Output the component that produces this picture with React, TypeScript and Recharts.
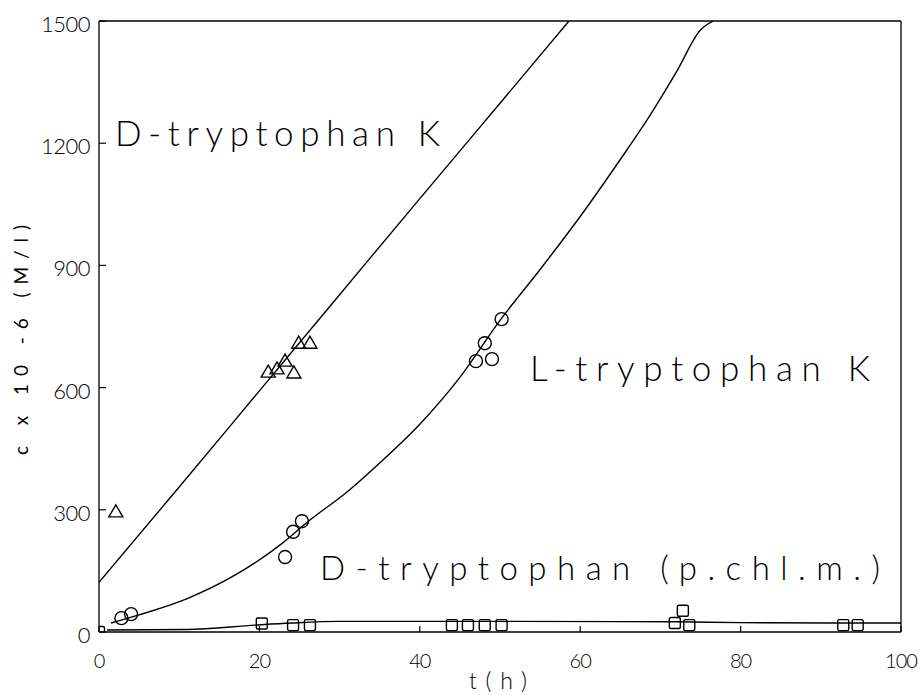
import React from 'react';
import { ComposedChart, Line, Scatter, XAxis, YAxis, ReferenceLine } from 'recharts';

// D-tryptophan K (triangles)
const dTrpPoints = [
  { t: 2.1, c: 295 },
  { t: 21.1, c: 638 },
  { t: 22.2, c: 646 },
  { t: 23.2, c: 665 },
  { t: 24.3, c: 636 },
  { t: 24.9, c: 709 },
  { t: 26.3, c: 709 },
];
const dTrpFit = [
  { t: 0, c: 122 },
  { t: 10, c: 356 },
  { t: 20, c: 592 },
  { t: 30, c: 828 },
  { t: 40, c: 1064 },
  { t: 50, c: 1298 },
  { t: 58.6, c: 1500 },
];

// L-tryptophan K (circles)
const lTrpPoints = [
  { t: 2.8, c: 34 },
  { t: 4.0, c: 44 },
  { t: 23.2, c: 184 },
  { t: 24.2, c: 246 },
  { t: 25.3, c: 272 },
  { t: 47.0, c: 665 },
  { t: 48.1, c: 709 },
  { t: 49.0, c: 670 },
  { t: 50.2, c: 768 },
];
const lTrpFit = [
  { t: 1.5, c: 22 },
  { t: 5, c: 42 },
  { t: 11, c: 82 },
  { t: 17, c: 140 },
  { t: 23, c: 220 },
  { t: 26, c: 270 },
  { t: 31, c: 345 },
  { t: 35, c: 415 },
  { t: 40, c: 510 },
  { t: 45, c: 625 },
  { t: 50, c: 765 },
  { t: 55, c: 890 },
  { t: 60, c: 1020 },
  { t: 65, c: 1160 },
  { t: 68.5, c: 1262 },
  { t: 72, c: 1375 },
  { t: 75, c: 1478 },
  { t: 76.6, c: 1500 },
];

// D-tryptophan (p.chl.m.) (squares)
const pchlPoints = [
  { t: 0, c: 0 },
  { t: 20.3, c: 21 },
  { t: 24.2, c: 17 },
  { t: 26.3, c: 17 },
  { t: 44.0, c: 17 },
  { t: 46.0, c: 17 },
  { t: 48.1, c: 17 },
  { t: 50.2, c: 17 },
  { t: 71.8, c: 22 },
  { t: 72.8, c: 52 },
  { t: 73.6, c: 17 },
  { t: 92.8, c: 17 },
  { t: 94.6, c: 17 },
];
const pchlFit = [
  { t: 1, c: 5 },
  { t: 11, c: 6 },
  { t: 19.5, c: 17 },
  { t: 24, c: 22 },
  { t: 30, c: 26 },
  { t: 50, c: 26 },
  { t: 72, c: 25 },
  { t: 80, c: 23 },
  { t: 100, c: 22 },
];

const xTicks = [0, 20, 40, 60, 80, 100];
const yTicks = [0, 300, 600, 900, 1200, 1500];

const labelFont = 'Lato, "DejaVu Sans", sans-serif';

function YTick(props: any) {
  const { x, y, payload } = props;
  return (
    <g>
      <line x1={x + 9} x2={x + 16} y1={y} y2={y} stroke="#000" strokeWidth={1.2} />
      <text x={x} y={y + 11} textAnchor="end" fontFamily={labelFont} fontWeight={300} fontSize={22} letterSpacing={-0.5} fill="#000">
        {payload.value}
      </text>
    </g>
  );
}

function XTick(props: any) {
  const { x, y, payload } = props;
  return (
    <g>
      <line x1={x} x2={x} y1={y} y2={y - 6} stroke="#000" strokeWidth={1.2} />
      <text x={x} y={y + 36} textAnchor="middle" fontFamily={labelFont} fontWeight={300} fontSize={20} letterSpacing={-1} fill="#000">
        {payload.value}
      </text>
    </g>
  );
}

const Triangle = (p: any) => (
  <path
    d={`M${p.cx},${p.cy - 7} L${p.cx - 7},${p.cy + 5} L${p.cx + 7},${p.cy + 5} Z`}
    fill="none"
    stroke="#000"
    strokeWidth={1.4}
  />
);
const Ring = (p: any) => <circle cx={p.cx} cy={p.cy} r={6.5} fill="none" stroke="#000" strokeWidth={1.4} />;
const Box = (p: any) => (
  <rect x={p.cx - 5.5} y={p.cy - 5.5} width={11} height={11} rx={1.5} fill="none" stroke="#000" strokeWidth={1.4} />
);

export default function App() {
  return (
    <div style={{ position: 'absolute', left: 0, top: 0, width: 918, height: 695, background: '#fff' }}>
      <ComposedChart width={918} height={695} margin={{ top: 21, right: 17, bottom: 0, left: 0 }}>
        <XAxis
          dataKey="t"
          type="number"
          domain={[0, 100]}
          ticks={xTicks}
          interval={0}
          height={63}
          tickSize={0}
          tickMargin={0}
          tickLine={false}
          tick={<XTick />}
          axisLine={false}
          allowDataOverflow
        />
        <YAxis
          type="number"
          domain={[0, 1500]}
          ticks={yTicks}
          interval={0}
          width={99}
          tickSize={0}
          tickMargin={9}
          tickLine={false}
          tick={<YTick />}
          axisLine={false}
          allowDataOverflow
        />
        <ReferenceLine y={1500} stroke="#000" strokeWidth={1.3} />
        <ReferenceLine y={0} stroke="#000" strokeWidth={1.3} />
        <ReferenceLine x={0} stroke="#000" strokeWidth={1.3} />
        <ReferenceLine x={100} stroke="#000" strokeWidth={1.3} />
        <Line data={dTrpFit} dataKey="c" type="monotone" stroke="#000" strokeWidth={1.4} dot={false} isAnimationActive={false} />
        <Line data={lTrpFit} dataKey="c" type="monotone" stroke="#000" strokeWidth={1.4} dot={false} isAnimationActive={false} />
        <Line data={pchlFit} dataKey="c" type="monotone" stroke="#000" strokeWidth={1.4} dot={false} isAnimationActive={false} />
        <Scatter data={dTrpPoints} dataKey="c" shape={Triangle} isAnimationActive={false} />
        <Scatter data={lTrpPoints} dataKey="c" shape={Ring} isAnimationActive={false} />
        <Scatter data={pchlPoints} dataKey="c" shape={Box} isAnimationActive={false} />
      </ComposedChart>
      <svg width={918} height={695} style={{ position: 'absolute', left: 0, top: 0, pointerEvents: 'none' }}>
        <g fontFamily={labelFont} fontWeight={300} fill="#000">
          <text x={115} y={146} fontSize={35} textLength={325} lengthAdjust="spacing">D-tryptophan K</text>
          <text x={530} y={381} fontSize={35} textLength={340} lengthAdjust="spacing">L-tryptophan K</text>
          <text x={320} y={580} fontSize={33} textLength={560} lengthAdjust="spacing">D-tryptophan (p.chl.m.)</text>
          <text
            x={22}
            y={346}
            fontSize={19}
            fontWeight={400}
            textAnchor="middle"
            textLength={230}
            lengthAdjust="spacing"
            transform="rotate(-90, 22, 340)"
          >
            c x 10 -6 (M/l)
          </text>
          <text x={498} y={689} fontSize={23} textAnchor="middle" textLength={58} lengthAdjust="spacing">t(h)</text>
        </g>
      </svg>
    </div>
  );
}
